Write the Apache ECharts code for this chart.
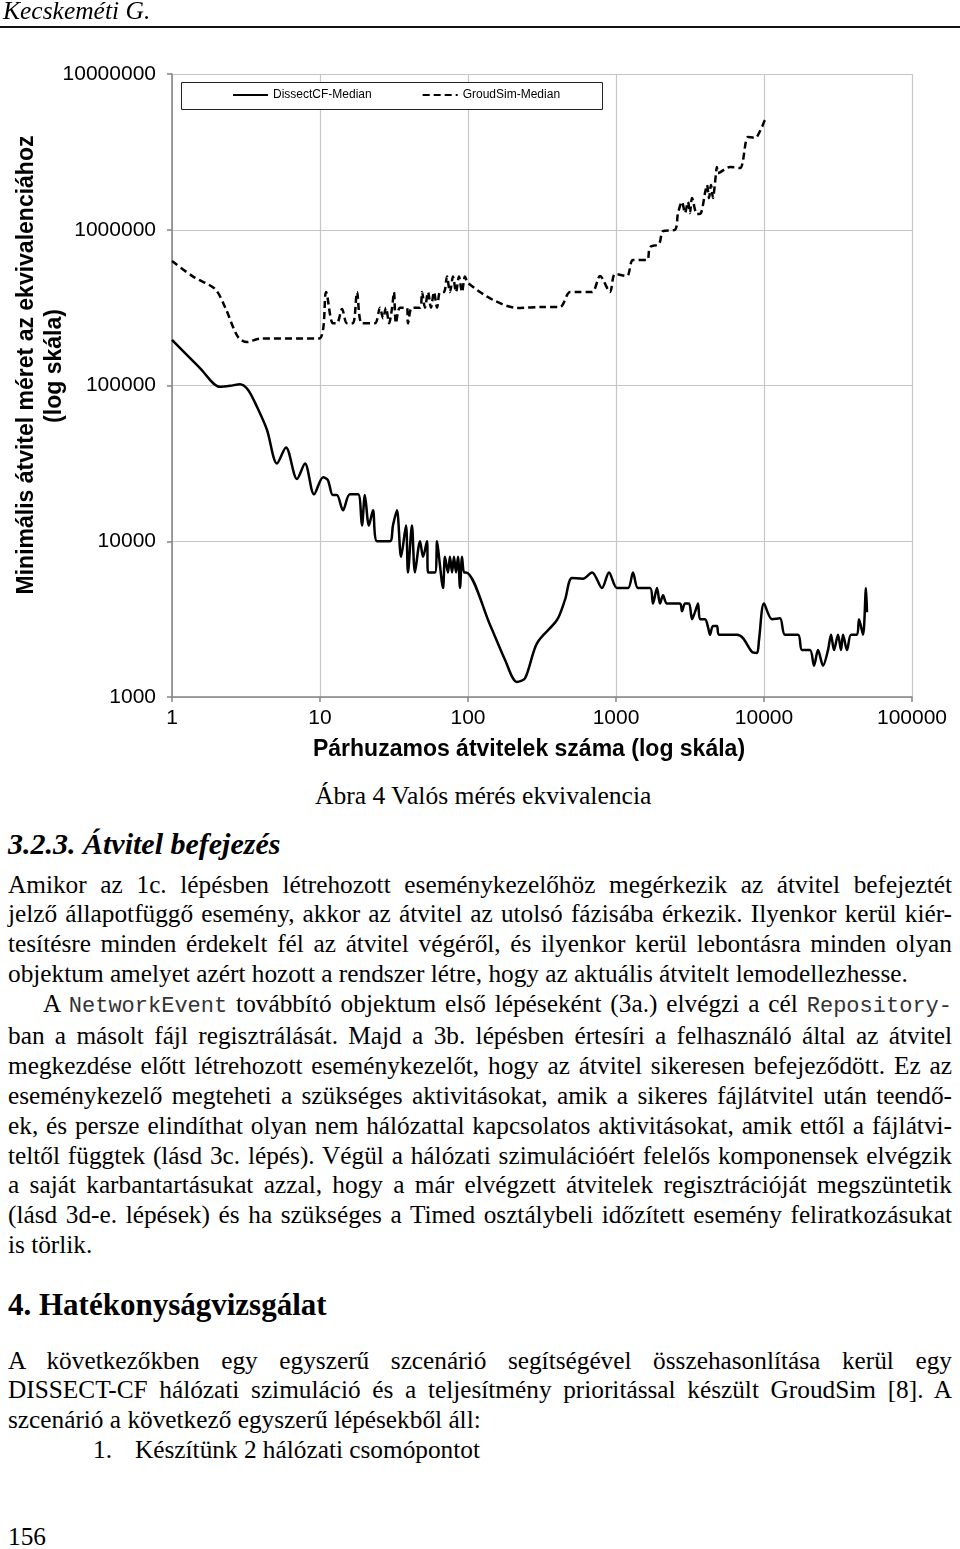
<!DOCTYPE html>
<html><head><meta charset="utf-8">
<script src="https://cdn.jsdelivr.net/npm/echarts@6/dist/echarts.min.js"></script>
<style>
body{margin:0;background:#fff;}
#page{position:relative;width:960px;height:1549px;overflow:hidden;background:#fff;font-family:'Liberation Serif','Times New Roman',serif;color:#000;}
#chart{position:absolute;left:0;top:0;width:960px;height:780px;z-index:1;}
.t{position:absolute;white-space:nowrap;z-index:2;}
.para{position:absolute;left:8px;width:944px;font-size:25.3px;line-height:29.8px;z-index:2;}
.j{text-align:justify;text-align-last:justify;}
.mono{font-family:'Liberation Mono',monospace;font-size:22px;color:#333;}
</style></head>
<body>
<div id="page">
  <div class="t" style="left:3px;top:-3px;font-size:25.5px;line-height:28px;font-style:italic;">Kecskeméti G.</div>
  <div style="position:absolute;left:0;top:26px;width:960px;height:2px;background:#111;"></div>
  <div id="chart"></div>
  <div class="t" style="left:315px;top:781px;font-size:25.6px;line-height:29.8px;">Ábra 4 Valós mérés ekvivalencia</div>
  <div class="t" style="left:8px;top:827px;font-size:30px;line-height:34px;font-weight:bold;font-style:italic;">3.2.3. Átvitel befejezés</div>
  <div class="para" style="top:869.5px;">
    <div class="j">Amikor az 1c. lépésben létrehozott eseménykezelőhöz megérkezik az átvitel befejeztét</div>
    <div class="j">jelző állapotfüggő esemény, akkor az átvitel az utolsó fázisába érkezik. Ilyenkor kerül kiér-</div>
    <div class="j">tesítésre minden érdekelt fél az átvitel végéről, és ilyenkor kerül lebontásra minden olyan</div>
    <div>objektum amelyet azért hozott a rendszer létre, hogy az aktuális átvitelt lemodellezhesse.</div>
    <div class="j" style="padding-left:35px;">A <span class="mono">NetworkEvent</span> továbbító objektum első lépéseként (3a.) elvégzi a cél <span class="mono">Repository-</span></div>
    <div class="j">ban a másolt fájl regisztrálását. Majd a 3b. lépésben értesíri a felhasználó által az átvitel</div>
    <div class="j">megkezdése előtt létrehozott eseménykezelőt, hogy az átvitel sikeresen befejeződött. Ez az</div>
    <div class="j">eseménykezelő megteheti a szükséges aktivitásokat, amik a sikeres fájlátvitel után teendő-</div>
    <div class="j">ek, és persze elindíthat olyan nem hálózattal kapcsolatos aktivitásokat, amik ettől a fájlátvi-</div>
    <div class="j">teltől függtek (lásd 3c. lépés). Végül a hálózati szimulációért felelős komponensek elvégzik</div>
    <div class="j">a saját karbantartásukat azzal, hogy a már elvégzett átvitelek regisztrációját megszüntetik</div>
    <div class="j">(lásd 3d-e. lépések) és ha szükséges a Timed osztálybeli időzített esemény feliratkozásukat</div>
    <div>is törlik.</div>
  </div>
  <div class="t" style="left:8px;top:1287px;font-size:31px;line-height:36px;font-weight:bold;">4. Hatékonyságvizsgálat</div>
  <div class="para" style="top:1345.5px;">
    <div class="j">A következőkben egy egyszerű szcenárió segítségével összehasonlítása kerül egy</div>
    <div class="j">DISSECT-CF hálózati szimuláció és a teljesítmény prioritással készült GroudSim [8]. A</div>
    <div>szcenárió a következő egyszerű lépésekből áll:</div>
    <div><span style="position:absolute;left:85px;">1.</span><span style="position:absolute;left:127px;">Készítünk 2 hálózati csomópontot</span>&nbsp;</div>
  </div>
  <div class="para" style="top:1521.5px;">156</div>
</div>
<script>
// ---- data ----
const seriesNames = ['DissectCF-Median', 'GroudSim-Median'];
const xTickLabels = ['1', '10', '100', '1000', '10000', '100000'];
const yTickLabels = ['1000', '10000', '100000', '1000000', '10000000'];

const dissectCF = [
  [1,196000],[1.55,129000],[2.11,98000],[2.47,99500],[2.88,102000],[3.26,94000],
  [3.75,73000],[4.38,52000],[5.12,31600],[5.89,40000],[6.99,25100],[7.92,31600],[9.11,20000],
  [10.5,25800],[11.3,24700],[12.2,19800],[13,19800],[14.3,15800],[15.9,20000],[18.1,20000],
  [19.2,12600],[20.1,19800],[21.4,12600],[22.8,15800],[24.3,10000],[29.7,10000],[31.1,12600],
  [33.1,15800],[35.3,7940],[38.1,12600],[39.3,6310],[41.8,12600],[43.8,6310],[47.4,10000],
  [49.7,7940],[52.8,10000],[53.7,6310],[59.8,6310],[61.8,10000],[63.7,7940],[67.8,5010],
  [69.9,7940],[73.2,6310],[75.5,7940],[78,6310],[80.4,7940],[83,6310],[85.6,7940],[88.3,5010],
  [91.1,7940],[94,6310],[97,6310],[141,2900],[178,1730],[214,1250],[243,1320],[293,2220],
  [399,3120],[452,4200],[504,5800],[598,5750],[689,6310],[804,5010],[897,6310],[1016,5010],
  [1205,5010],[1303,6310],[1409,5010],[1698,5010],[1778,3980],[1892,5010],[1983,3980],
  [2078,4500],[2211,3980],[2706,3980],[2793,3550],[2926,3980],[3113,3980],[3265,3160],
  [3420,3520],[3583,3980],[3698,3160],[3993,3160],[4186,2810],[4317,2510],[4522,2860],
  [4810,2860],[4966,2510],[6574,2510],[7211,2390],[8300,1950],[8970,1920],[9250,2320],
  [10000,3980],[11320,3160],[12820,3200],[13870,2510],[16980,2510],[18060,2000],[20460,2000],
  [21770,1590],[23170,2000],[25060,1590],[27060,2000],[28370,2510],[29720,2000],[31620,2510],
  [33130,2000],[34200,2510],[36390,2000],[38720,2510],[42480,2510],[43850,3160],[46660,2510],
  [48870,5010],[49640,3500]
];

const groudSim = [
  [1,630000],[1.39,500000],[1.95,417000],[2.28,319000],[2.79,205000],[3.21,190000],[3.93,200000],
  [9.85,200000],[11,398000],[12.2,251000],[13,251000],[14.1,310000],[15.2,251000],[16.7,251000],
  [17.8,398000],[19.2,251000],[23.5,251000],[25.4,316000],[26.7,270000],[27.9,316000],
  [29.3,251000],[30.7,316000],[31.6,398000],[32.6,251000],[34.7,316000],[38.7,316000],
  [39.3,251000],[41.8,316000],[47.4,316000],[48.9,398000],[51.2,316000],[53.7,398000],
  [56.2,316000],[58.9,398000],[61.8,316000],[64.7,398000],[68.8,398000],[72.1,501000],
  [75.5,398000],[79.2,501000],[83,398000],[86.9,501000],[91.1,398000],[95.4,501000],
  [100,455000],[148,354000],[214,315000],[321,319000],[418,319000],[489,398000],[545,398000],
  [689,398000],[780,505000],[911,398000],[985,520000],[1186,505000],[1303,640000],[1620,640000],
  [1698,774000],[1953,810000],[2078,980000],[2504,1000000],[2624,1280000],[2793,1510000],
  [2926,1280000],[3063,1510000],[3162,1280000],[3265,1600000],[3526,1260000],[3753,1280000],
  [3993,1720000],[4118,1940000],[4249,1600000],[4383,1940000],[4522,1600000],[4666,2000000],
  [4810,2530000],[4889,2310000],[5893,2530000],[6886,2490000],[7800,3940000],[8696,3890000],
  [9690,4570000],[10150,5070000],[10480,5140000]
];

const chart = echarts.init(document.getElementById('chart'), null, {renderer: 'canvas'});
const axisColor = '#858585';
const gridColor = '#c6c6c6';
const labelFont = {fontFamily: '"Liberation Sans", Arial, sans-serif', fontSize: 21, color: '#000'};

chart.setOption({
  animation: false,
  grid: {left: 172, top: 74, width: 740, height: 623, containLabel: false, outerBoundsMode: 'none'},
  xAxis: {
    type: 'log', logBase: 10, min: 1, max: 100000,
    axisLine: {show: true, onZero: false, lineStyle: {color: axisColor, width: 1.5}},
    axisTick: {show: true, length: 5, lineStyle: {color: axisColor, width: 1.5}},
    axisLabel: Object.assign({margin: 11, formatter: v => xTickLabels[Math.round(Math.log10(v))]}, labelFont),
    splitLine: {show: true, lineStyle: {color: gridColor, width: 1.2}},
    minorTick: {show: false}, minorSplitLine: {show: false}
  },
  yAxis: {
    type: 'log', logBase: 10, min: 1000, max: 10000000,
    axisLine: {show: true, onZero: false, lineStyle: {color: axisColor, width: 1.5}},
    axisTick: {show: true, length: 5, lineStyle: {color: axisColor, width: 1.5}},
    axisLabel: Object.assign({margin: 16, formatter: v => yTickLabels[Math.round(Math.log10(v)) - 3]}, labelFont),
    splitLine: {show: true, lineStyle: {color: gridColor, width: 1.2}},
    minorTick: {show: false}, minorSplitLine: {show: false}
  },
  legend: {
    data: seriesNames,
    left: 232, top: 89, padding: 0, z: 10,
    itemWidth: 35, itemHeight: 14, itemGap: 50,
    itemStyle: {opacity: 0},
    textStyle: {fontFamily: '"Liberation Sans", Arial, sans-serif', fontSize: 12, color: '#000'}
  },
  graphic: [
    {type: 'rect', z: 5, shape: {x: 181.5, y: 82.5, width: 421, height: 27},
     style: {fill: '#fff', stroke: '#222', lineWidth: 1}},
    {type: 'text', x: 27, y: 365, rotation: Math.PI / 2,
     style: {text: 'Minimális átvitel méret az ekvivalenciához', fill: '#000',
             font: 'bold 23px "Liberation Sans", Arial, sans-serif', align: 'center', verticalAlign: 'middle'}},
    {type: 'text', x: 55, y: 366, rotation: Math.PI / 2,
     style: {text: '(log skála)', fill: '#000',
             font: 'bold 23px "Liberation Sans", Arial, sans-serif', align: 'center', verticalAlign: 'middle'}},
    {type: 'text', x: 529, y: 750,
     style: {text: 'Párhuzamos átvitelek száma (log skála)', fill: '#000',
             font: 'bold 23px "Liberation Sans", Arial, sans-serif', align: 'center', verticalAlign: 'middle'}}
  ],
  series: [
    {name: seriesNames[0], type: 'line', data: dissectCF, showSymbol: false, symbol: 'none',
     smooth: 0.3, lineStyle: {color: '#000', width: 2.5}, itemStyle: {color: '#000'}, z: 3},
    {name: seriesNames[1], type: 'line', data: groudSim, showSymbol: false, symbol: 'none',
     smooth: 0.3, lineStyle: {color: '#000', width: 2.5, type: [7, 4]}, itemStyle: {color: '#000'}, z: 3}
  ]
});
</script>
</body></html>
